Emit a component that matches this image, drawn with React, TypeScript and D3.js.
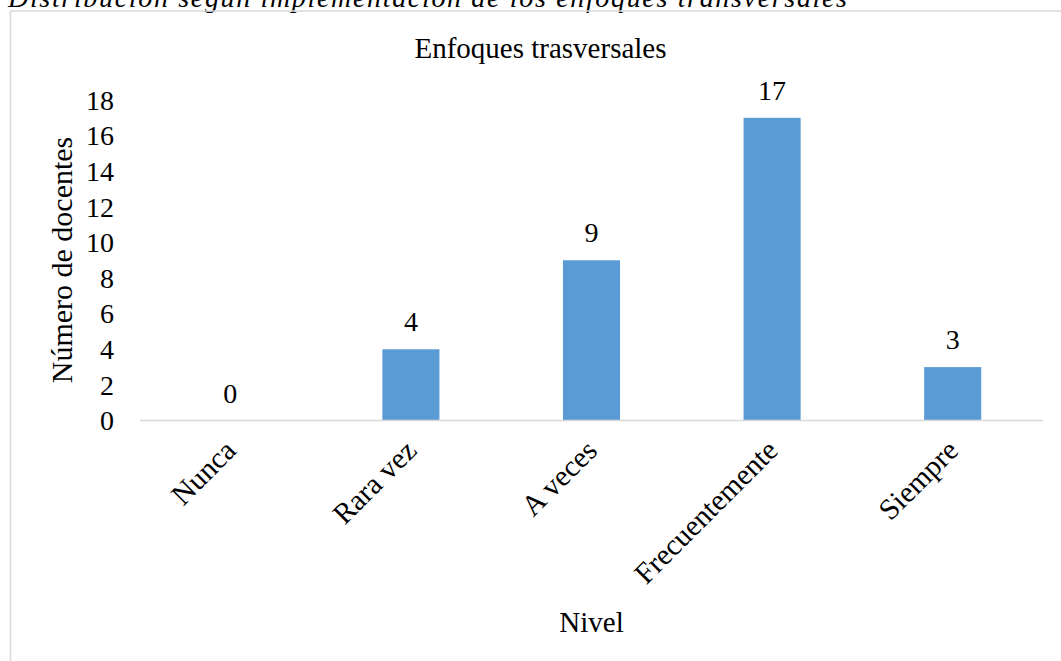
import React from "react";
import * as d3 from "d3";

const categories: string[] = ["Nunca", "Rara vez", "A veces", "Frecuentemente", "Siempre"];
const values: number[] = [0, 4, 9, 17, 3];
const yTicks: number[] = [0, 2, 4, 6, 8, 10, 12, 14, 16, 18];

const pageTitle = "Distribución según implementación de los enfoques transversales";
const chartTitle = "Enfoques trasversales";
const yTitle = "Número de docentes";
const xTitle = "Nivel";

const W = 1061;
const H = 661;
const FONT = "'Liberation Serif', 'Times New Roman', serif";

export default function App() {
  const x = d3.scaleBand<string>().domain(categories).range([140, 1043]).paddingInner(0.684).paddingOuter(0.342);
  const y = d3.scaleLinear().domain([0, 18]).range([420.5, 100]);

  return (
    <svg width={W} height={H} style={{ position: "absolute", left: 0, top: 0, background: "#fff" }} fontFamily={FONT}>
      <rect x={0} y={0} width={W} height={H} fill="#fff" />
      <text x={8} y={7} fontSize={28} fontStyle="italic" fill="#000" textLength={839}>
        {pageTitle}
      </text>
      <rect x={10.5} y={11} width={1070} height={700} fill="none" stroke="#d9d9d9" strokeWidth={1.5} />
      <text x={540.5} y={58} fontSize={29} textAnchor="middle" fill="#000">
        {chartTitle}
      </text>
      {yTicks.map((t) => (
        <text key={t} x={114} y={y(t)} dy="0.35em" fontSize={28} textAnchor="end" fill="#000">
          {t}
        </text>
      ))}
      {categories.map((c, i) => (
        <rect key={c} x={x(c)} y={y(values[i])} width={x.bandwidth()} height={y(0) - y(values[i])} fill="#5b9bd5" />
      ))}
      <line x1={140} x2={1043} y1={y(0)} y2={y(0)} stroke="#d9d9d9" strokeWidth={1.5} />
      {categories.map((c, i) => (
        <text key={c + "l"} x={(x(c) as number) + x.bandwidth() / 2} y={y(values[i]) - 18} fontSize={28} textAnchor="middle" fill="#000">
          {values[i]}
        </text>
      ))}
      {categories.map((c) => {
        const cx = (x(c) as number) + x.bandwidth() / 2;
        return (
          <text key={c + "x"} transform={`translate(${cx},445) rotate(-45)`} dy="0.35em" fontSize={29.5} textAnchor="end" fill="#000">
            {c}
          </text>
        );
      })}
      <text transform={`translate(72,260) rotate(-90)`} fontSize={30} textAnchor="middle" fill="#000">
        {yTitle}
      </text>
      <text x={(140 + 1043) / 2} y={632} fontSize={29} textAnchor="middle" fill="#000">
        {xTitle}
      </text>
    </svg>
  );
}
